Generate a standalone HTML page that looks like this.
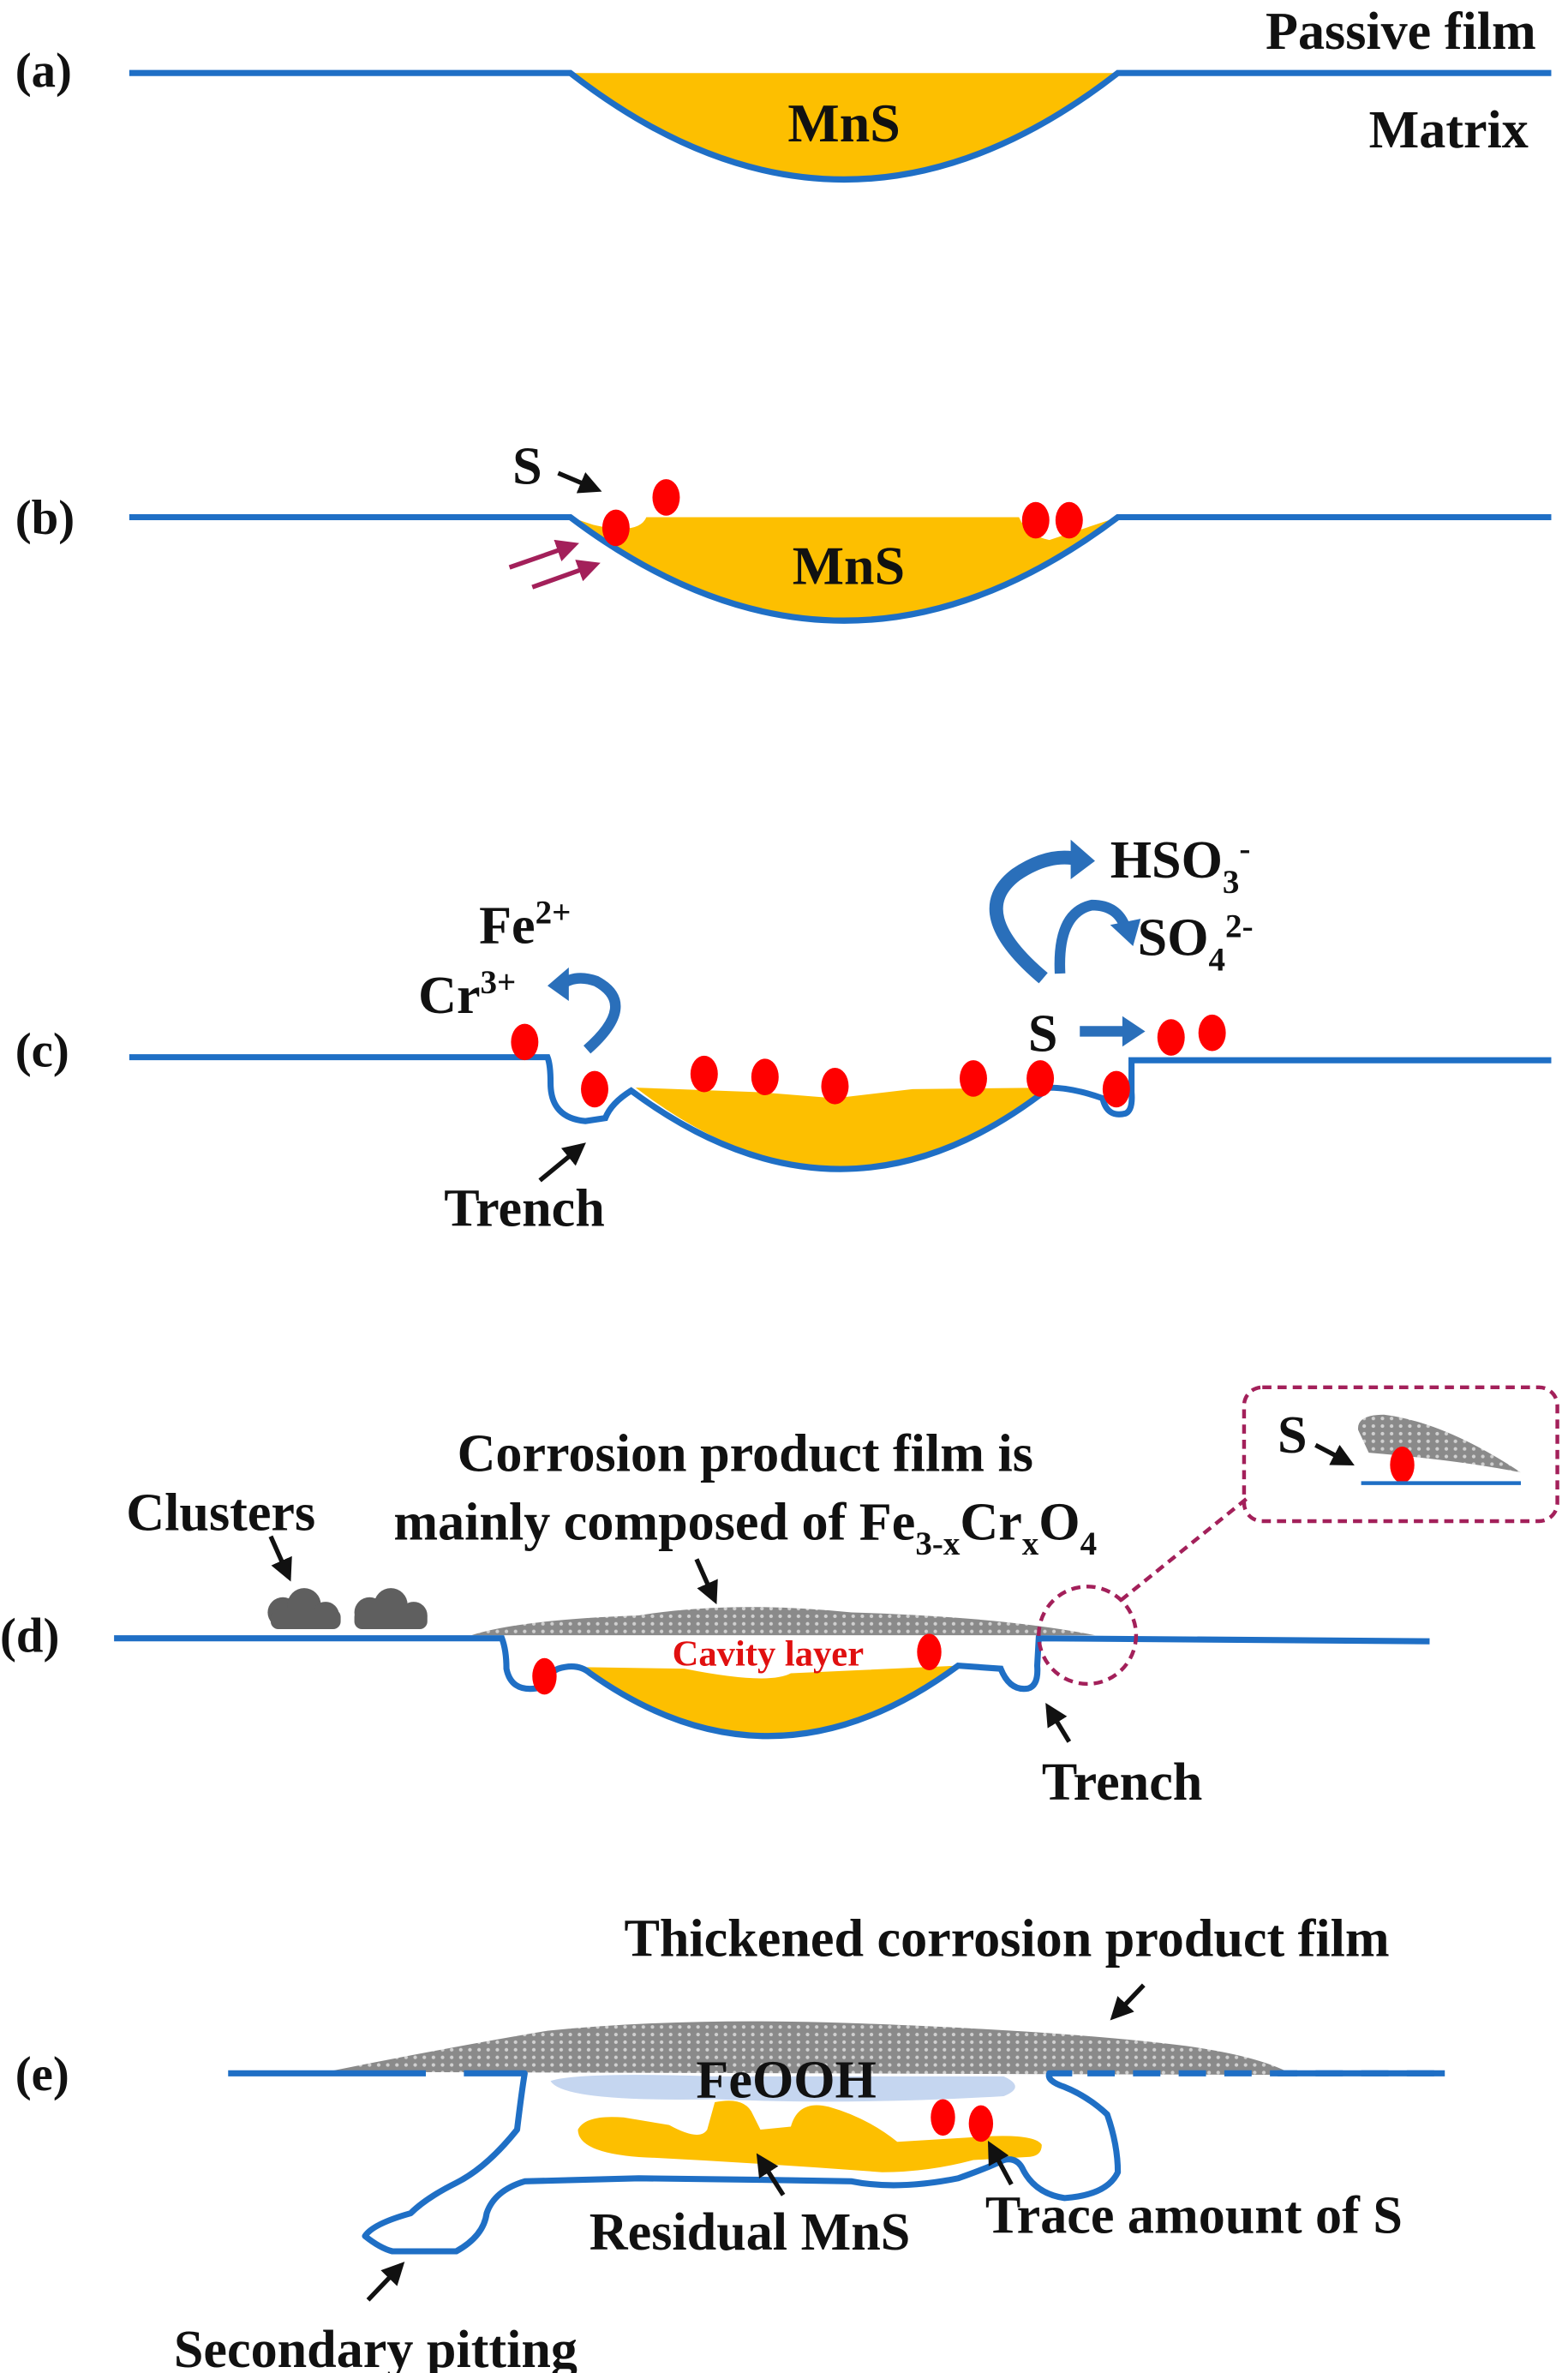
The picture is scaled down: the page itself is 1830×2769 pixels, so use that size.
<!DOCTYPE html>
<html><head><meta charset="utf-8"><style>
html,body{margin:0;padding:0;background:#fff}
svg{display:block}
text{font-family:"Liberation Serif",serif;font-weight:bold;fill:#111}
</style></head><body>
<svg width="1830" height="2769" viewBox="0 0 1031 1560" preserveAspectRatio="none" xmlns="http://www.w3.org/2000/svg">
<defs>
<marker id="ab" markerWidth="5" markerHeight="5" refX="4" refY="2.5" orient="auto" markerUnits="strokeWidth"><path d="M0,0 L5,2.5 L0,5 z" fill="#111"/></marker>
<marker id="am" markerWidth="5" markerHeight="5" refX="4" refY="2.5" orient="auto" markerUnits="strokeWidth"><path d="M0,0 L5,2.5 L0,5 z" fill="#a3205a"/></marker>
<pattern id="dots" width="6" height="5" patternUnits="userSpaceOnUse"><rect width="6" height="5" fill="#8a8a8a"/><circle cx="3" cy="2.5" r="1.2" fill="#d0d0d0"/></pattern>
</defs>

<!-- (a) -->
<path d="M375,48 Q555,188 735,48 Z" fill="#fdbf00"/>
<path d="M85,48 L375,48 Q555,188 735,48 L1020,48" fill="none" stroke="#1f6fc5" stroke-width="4"/>
<text x="10" y="57" font-size="32">(a)</text>
<text x="555" y="93" font-size="36" text-anchor="middle">MnS</text>
<text x="1010" y="32" font-size="35" text-anchor="end">Passive film</text>
<text x="1005" y="97" font-size="35" text-anchor="end">Matrix</text>

<!-- (b) -->
<path d="M425,340 L670,340 Q675,352 690,355 L735,340 Q555,476 375,340 L390,345 Q420,352 425,340 Z" fill="#fdbf00"/>
<path d="M85,340 L375,340 Q555,476 735,340 L1020,340" fill="none" stroke="#1f6fc5" stroke-width="4"/>
<ellipse cx="405" cy="347" rx="9" ry="12" fill="#f00"/>
<ellipse cx="438" cy="327" rx="9" ry="12" fill="#f00"/>
<ellipse cx="681" cy="342" rx="9" ry="12" fill="#f00"/>
<ellipse cx="703" cy="342" rx="9" ry="12" fill="#f00"/>
<text x="10" y="351" font-size="32">(b)</text>
<text x="337" y="318" font-size="35">S</text>
<line x1="367" y1="311" x2="393" y2="322" stroke="#111" stroke-width="3" marker-end="url(#ab)"/>
<line x1="335" y1="373" x2="378" y2="358" stroke="#a3205a" stroke-width="3" marker-end="url(#am)"/>
<line x1="350" y1="386" x2="392" y2="371" stroke="#a3205a" stroke-width="3" marker-end="url(#am)"/>
<text x="558" y="384" font-size="36" text-anchor="middle">MnS</text>

<!-- (c) -->
<path d="M418,715 L500,718 L549,722 L600,716 L690,715 Q555,821 418,715 Z" fill="#fdbf00"/>
<path d="M85,695 L360,695 Q362,700 362,712 Q362,735 385,737 L398,735 Q402,725 415,717 Q555,821 690,715 Q705,715 725,722 Q728,735 740,732 Q745,730 744,718 L744,697 L1020,697" fill="none" stroke="#1f6fc5" stroke-width="4"/>
<g fill="#f00">
<ellipse cx="345" cy="685" rx="9" ry="12"/><ellipse cx="391" cy="716" rx="9" ry="12"/>
<ellipse cx="463" cy="706" rx="9" ry="12"/><ellipse cx="503" cy="708" rx="9" ry="12"/>
<ellipse cx="549" cy="714" rx="9" ry="12"/><ellipse cx="640" cy="709" rx="9" ry="12"/>
<ellipse cx="684" cy="709" rx="9" ry="12"/><ellipse cx="734" cy="716" rx="9" ry="12"/>
<ellipse cx="770" cy="682" rx="9" ry="12"/><ellipse cx="797" cy="679" rx="9" ry="12"/>
</g>
<text x="10" y="701" font-size="32">(c)</text>
<text x="315" y="620" font-size="35">Fe<tspan font-size="22" dy="-13">2+</tspan></text>
<text x="275" y="666" font-size="35">Cr<tspan font-size="22" dy="-13">3+</tspan></text>
<text x="676" y="691" font-size="35">S</text>
<text x="730" y="577" font-size="35">HSO<tspan font-size="22" dy="10">3</tspan><tspan font-size="22" dy="-22">-</tspan></text>
<text x="748" y="628" font-size="35">SO<tspan font-size="22" dy="10">4</tspan><tspan font-size="22" dy="-22">2-</tspan></text>
<text x="292" y="806" font-size="35">Trench</text>
<line x1="355" y1="776" x2="383" y2="753" stroke="#111" stroke-width="3" marker-end="url(#ab)"/>
<path d="M386,690 Q420,660 392,645 Q378,640 368,648" fill="none" stroke="#2a6fba" stroke-width="7"/>
<path d="M360,648 L374,636 L374,658 Z" fill="#2a6fba"/>
<path d="M686,643 Q635,600 668,575 Q690,560 710,565" fill="none" stroke="#2a6fba" stroke-width="9"/>
<path d="M720,566 L704,552 L704,578 Z" fill="#2a6fba"/>
<path d="M697,640 Q695,600 718,595 Q735,595 740,610" fill="none" stroke="#2a6fba" stroke-width="7"/>
<path d="M745,622 L730,608 L750,604 Z" fill="#2a6fba"/>
<line x1="710" y1="678" x2="740" y2="678" stroke="#2a6fba" stroke-width="7"/>
<path d="M753,678 L738,668 L738,688 Z" fill="#2a6fba"/>

<!-- (d) -->
<path d="M310,1075 Q340,1065 420,1062 Q480,1052 560,1060 Q660,1063 720,1075 Z" fill="url(#dots)"/>
<path d="M385,1096 L450,1097 Q505,1108 520,1100 L630,1095 Q508,1185 385,1096 Z" fill="#fdbf00"/>
<path d="M75,1077 L330,1077 Q333,1085 333,1097 Q336,1112 352,1110 Q360,1100 367,1097 Q380,1093 388,1100 Q508,1185 630,1095 L658,1097 Q664,1112 676,1110 Q683,1108 682,1095 L683,1077 L940,1079" fill="none" stroke="#1f6fc5" stroke-width="4"/>
<ellipse cx="358" cy="1102" rx="8" ry="12" fill="#f00"/>
<ellipse cx="611" cy="1086" rx="8" ry="12" fill="#f00"/>
<g fill="#5f5f5f">
<circle cx="186" cy="1060" r="10"/><circle cx="200" cy="1055" r="11"/><circle cx="214" cy="1062" r="9"/><rect x="178" y="1058" width="46" height="13" rx="5"/>
<circle cx="243" cy="1060" r="10"/><circle cx="257" cy="1055" r="11"/><circle cx="272" cy="1062" r="9"/><rect x="233" y="1058" width="48" height="13" rx="5"/>
</g>
<text x="0" y="1086" font-size="32">(d)</text>
<text x="505" y="1095" font-size="24" style="fill:#e01010" text-anchor="middle">Cavity layer</text>
<text x="490" y="967" font-size="35" text-anchor="middle">Corrosion product film is</text>
<text x="490" y="1012" font-size="35" text-anchor="middle">mainly composed of Fe<tspan font-size="22" dy="10">3-x</tspan><tspan dy="-10">Cr</tspan><tspan font-size="22" dy="10">x</tspan><tspan dy="-10">O</tspan><tspan font-size="22" dy="10">4</tspan></text>
<text x="83" y="1006" font-size="35">Clusters</text>
<line x1="178" y1="1010" x2="190" y2="1037" stroke="#111" stroke-width="3" marker-end="url(#ab)"/>
<line x1="458" y1="1025" x2="470" y2="1052" stroke="#111" stroke-width="3" marker-end="url(#ab)"/>
<text x="685" y="1183" font-size="35">Trench</text>
<line x1="703" y1="1145" x2="689" y2="1122" stroke="#111" stroke-width="3" marker-end="url(#ab)"/>
<circle cx="715" cy="1075" r="32" fill="none" stroke="#a3205a" stroke-width="2.5" stroke-dasharray="6,4"/>
<line x1="737" y1="1052" x2="820" y2="985" stroke="#a3205a" stroke-width="2.5" stroke-dasharray="6,4"/>
<rect x="818" y="912" width="206" height="88" rx="12" fill="none" stroke="#a3205a" stroke-width="2.5" stroke-dasharray="6,4"/>
<text x="840" y="955" font-size="35">S</text>
<line x1="865" y1="950" x2="888" y2="962" stroke="#111" stroke-width="3" marker-end="url(#ab)"/>
<path d="M893,940 Q892,930 910,930 Q950,935 1000,968 Q960,960 900,955 Z" fill="url(#dots)"/>
<ellipse cx="922" cy="963" rx="8" ry="12" fill="#f00"/>
<line x1="895" y1="975" x2="1000" y2="975" stroke="#1f6fc5" stroke-width="2.5"/>

<!-- (e) -->
<path d="M215,1362 Q300,1345 360,1335 Q450,1326 560,1330 Q700,1335 780,1345 Q830,1352 850,1364 Z" fill="url(#dots)"/>
<path d="M362,1368 Q380,1362 470,1365 L660,1365 Q675,1372 660,1378 Q560,1384 470,1380 Q370,1382 362,1368 Z" fill="#c5d6f0"/>
<path d="M380,1400 Q385,1390 410,1392 L440,1397 Q460,1408 465,1400 L470,1382 Q490,1378 495,1390 L500,1400 L520,1398 Q525,1380 545,1385 Q570,1392 590,1408 L640,1405 Q680,1402 685,1410 Q685,1418 675,1418 L640,1420 Q610,1428 580,1428 Q500,1422 420,1418 Q380,1415 380,1400 Z" fill="#fdbf00"/>
<g fill="none" stroke="#1f6fc5" stroke-width="4" stroke-linejoin="round">
<path d="M150,1363 L280,1363 M305,1363 L345,1363 Q343,1375 340,1400 Q320,1425 300,1435 Q280,1445 270,1455 Q245,1462 240,1470 Q250,1478 258,1480 L300,1480 Q318,1470 320,1455 Q325,1440 345,1434 L420,1432 L500,1433 L560,1434 Q590,1440 630,1432 Q650,1425 660,1420 Q668,1418 672,1425 Q680,1442 700,1445 Q728,1443 735,1428 Q735,1410 728,1390 Q715,1378 700,1372 Q688,1368 690,1363 L705,1363"/>
<path d="M715,1363 L950,1363" stroke-dasharray="18,12"/>
<path d="M840,1363 L950,1363"/>
</g>
<ellipse cx="620" cy="1392" rx="8" ry="12" fill="#f00"/>
<ellipse cx="645" cy="1396" rx="8" ry="12" fill="#f00"/>
<text x="10" y="1374" font-size="32">(e)</text>
<text x="517" y="1379" font-size="35" text-anchor="middle">FeOOH</text>
<text x="662" y="1286" font-size="35" text-anchor="middle">Thickened corrosion product film</text>
<line x1="752" y1="1305" x2="732" y2="1326" stroke="#111" stroke-width="3" marker-end="url(#ab)"/>
<text x="493" y="1479" font-size="35" text-anchor="middle">Residual MnS</text>
<line x1="515" y1="1443" x2="499" y2="1418" stroke="#111" stroke-width="3" marker-end="url(#ab)"/>
<text x="785" y="1468" font-size="35" text-anchor="middle">Trace amount of S</text>
<line x1="665" y1="1436" x2="651" y2="1410" stroke="#111" stroke-width="3" marker-end="url(#ab)"/>
<text x="247" y="1556" font-size="35" text-anchor="middle">Secondary pitting</text>
<line x1="242" y1="1512" x2="264" y2="1489" stroke="#111" stroke-width="3" marker-end="url(#ab)"/>
</svg>
</body></html>
